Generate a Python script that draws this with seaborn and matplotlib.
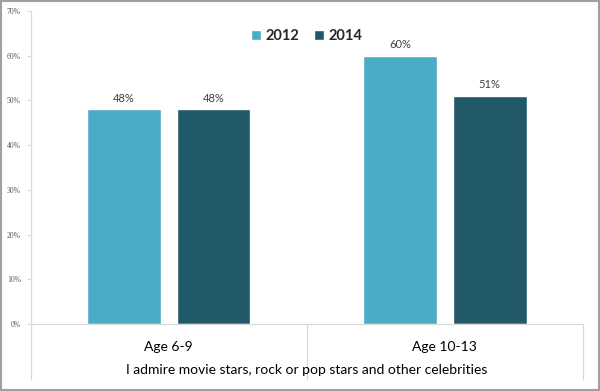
import matplotlib
matplotlib.use("Agg")
import matplotlib.pyplot as plt
import seaborn as sns
import pandas as pd
from matplotlib.patches import Rectangle
from matplotlib.ticker import FixedLocator, PercentFormatter

categories = ["Age 6-9", "Age 10-13"]
years = ["2012", "2014"]
values_2012 = [48, 60]
values_2014 = [48, 51]
colors = ["#4BACC6", "#215968"]
yticks = [0, 10, 20, 30, 40, 50, 60, 70]
group_label = "I admire movie stars, rock or pop stars and other celebrities"

df = pd.DataFrame({
    "cat": categories * 2,
    "year": [years[0]] * len(categories) + [years[1]] * len(categories),
    "val": values_2012 + values_2014,
})

sns.set_theme(style="white")
plt.rcParams["font.family"] = ["Lato", "DejaVu Sans"]

fig = plt.figure(figsize=(6, 3.91), dpi=100)
ax = fig.add_axes([30.5 / 600, 67 / 391, 552.5 / 600, 313 / 391])

sns.barplot(data=df, x="cat", y="val", hue="year", palette=colors,
            width=0.65, gap=0.177, ax=ax, saturation=1, errorbar=None,
            order=categories, hue_order=years)

for cont in ax.containers:
    ax.bar_label(cont, labels=[f"{v:.0f}%" for v in cont.datavalues],
                 padding=4, fontsize=8, color="#404040")

ax.set_ylim(0, 70)
ax.set_xlim(-0.5, 1.5)
ax.set_yticks(yticks)
ax.yaxis.set_major_formatter(PercentFormatter(decimals=0))
ax.tick_params(axis="y", labelsize=5.5, labelcolor="#595959", left=True,
               length=3, width=0.8, color="#D9D9D9", pad=4)
for lab in ax.get_yticklabels():
    lab.set_family(["Liberation Serif", "DejaVu Serif"])

ax.tick_params(axis="x", which="major", length=0, labelsize=10,
               labelcolor="#000000", pad=12)
ax.xaxis.set_minor_locator(FixedLocator([-0.5, 0.5, 1.5]))
ax.tick_params(axis="x", which="minor", bottom=True, length=40,
               width=0.9, color="#D9D9D9", direction="out")

ax.set_xlabel(group_label, fontsize=10, color="#000000")
ax.xaxis.set_label_coords(0.5, -0.147)
ax.xaxis.label.set_verticalalignment("center")
ax.set_ylabel("")

for side in ["top", "right"]:
    ax.spines[side].set_visible(False)
for side in ["left", "bottom"]:
    ax.spines[side].set_color("#D9D9D9")
    ax.spines[side].set_linewidth(0.9)
ax.spines["left"].set_bounds(0, 70)

leg = ax.legend(loc="upper center", bbox_to_anchor=(0.5, 0.985), ncol=2,
                frameon=False, handlelength=0.7, handleheight=0.7,
                handletextpad=0.3, columnspacing=1.0,
                prop={"weight": "bold", "size": 10.5})

fig.patches.append(Rectangle((0.001, 0.002), 0.997, 0.995,
                             transform=fig.transFigure, fill=False,
                             edgecolor="#A0A0A0", linewidth=1.5))

fig.savefig("out.png", dpi=100)
